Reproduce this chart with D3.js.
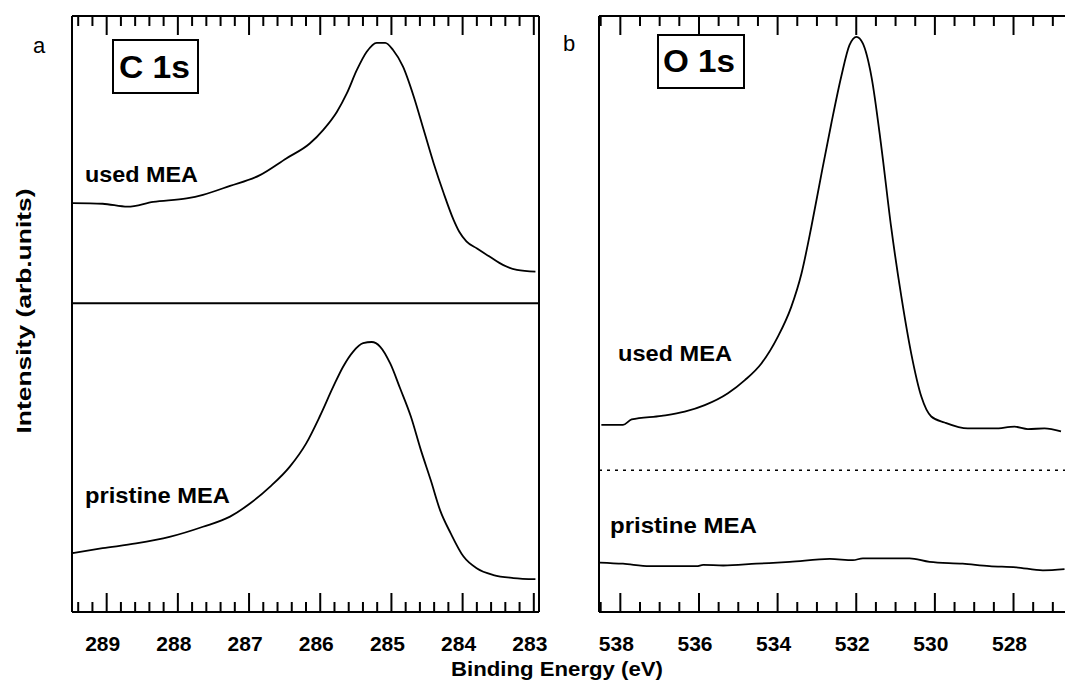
<!DOCTYPE html>
<html><head><meta charset="utf-8">
<script src="https://cdn.jsdelivr.net/npm/d3@7/dist/d3.min.js"></script>
<style>body{margin:0;background:#fff}svg{display:block}text{font-family:"Liberation Sans",Arial,sans-serif}</style>
</head><body>
<script>
// ---- Data ----
const cTicks = [289, 288, 287, 286, 285, 284, 283];
const oTicks = [538, 536, 534, 532, 530, 528];

const cUsedEnergy = [289.47,289.05,288.70,288.34,287.87,287.64,287.26,286.84,286.47,286.14,285.95,285.76,285.62,285.48,285.34,285.20,285.08,284.97,284.83,284.68,284.54,284.40,284.26,284.12,284.04,283.94,283.79,283.61,283.42,283.23,282.97];
const cUsedIntensity = [68.6,68.5,68.0,68.8,69.4,70.0,71.5,73.3,76.1,78.6,80.9,83.9,87.0,90.9,94.0,95.5,95.5,94.3,91.5,86.5,80.9,75.3,70.3,65.8,63.8,62.2,61.0,59.6,58.2,57.4,57.1];

const cPristineEnergy = [289.47,289.05,288.58,288.11,287.64,287.26,286.98,286.70,286.42,286.19,286.00,285.81,285.67,285.53,285.39,285.27,285.15,285.01,284.87,284.72,284.58,284.44,284.31,284.16,283.98,283.79,283.56,283.28,282.97];
const cPristineIntensity = [9.9,10.7,11.5,12.6,14.3,16.0,18.2,21.0,24.4,28.3,32.8,37.8,41.2,43.7,45.1,45.3,44.5,41.7,37.5,32.8,27.2,22.1,17.1,13.2,9.3,7.3,6.2,5.7,5.5];

const oUsedEnergy = [538.47,537.92,537.70,536.94,536.35,535.84,535.25,534.82,534.40,533.98,533.64,533.38,533.13,532.87,532.62,532.37,532.16,531.98,531.82,531.60,531.35,531.10,530.84,530.59,530.33,530.08,529.74,529.15,528.47,527.96,527.62,527.20,526.78];
const oUsedIntensity = [31.4,31.4,32.3,32.9,33.6,34.7,36.7,38.9,41.7,46.2,51.2,56.8,64.6,73.6,82.0,89.8,95.1,96.5,95.4,89.8,78.1,64.6,52.9,43.4,36.1,32.8,31.8,30.8,30.8,31.1,30.7,30.8,30.3];

const oPristineEnergy = [538.51,537.92,537.24,536.05,535.88,535.37,534.53,533.68,532.66,532.07,531.82,530.63,530.12,529.28,528.60,527.92,527.24,526.69];
const oPristineIntensity = [8.3,8.1,7.7,7.7,7.9,7.8,8.1,8.4,8.9,8.7,9.0,9.0,8.4,8.1,7.7,7.5,7.0,7.2];

const cSeparator = 51.8;   // solid divider, panel a
const oSeparator = 23.8;   // dotted divider, panel b

// ---- Layout ----
const W = 1065, H = 685;
const svg = d3.select("body").append("svg").attr("width", W).attr("height", H);
const yTop = 16, yBottom = 612;
const y = d3.scaleLinear().domain([0, 100]).range([yBottom, yTop]);

const panels = [
  {x: d3.scaleLinear().domain([289.48, 282.92]).range([72, 539]), ticks: cTicks, minor: 0.2,
   series: [[cUsedEnergy, cUsedIntensity], [cPristineEnergy, cPristineIntensity]],
   sep: cSeparator, dotted: false, letter: "a", lx: 33, ly: 53, rightBorder: true,
   box: {x: 113, y: 40, w: 85, h: 53, label: "C 1s", tx: 119, ty: 78, tl: 71},
   labels: [{t: "used MEA", x: 85, y: 182, l: 113}, {t: "pristine MEA", x: 85, y: 503, l: 145}]},
  {x: d3.scaleLinear().domain([538.53, 526.5]).range([599, 1072]), ticks: oTicks, minor: 0.5,
   series: [[oUsedEnergy, oUsedIntensity], [oPristineEnergy, oPristineIntensity]],
   sep: oSeparator, dotted: true, letter: "b", lx: 563, ly: 51, rightBorder: false,
   box: {x: 658, y: 35, w: 86, h: 53, label: "O 1s", tx: 663, ty: 72, tl: 72},
   labels: [{t: "used MEA", x: 618, y: 361, l: 114}, {t: "pristine MEA", x: 610, y: 533, l: 147}]}
];

panels.forEach(p => {
  const g = svg.append("g");
  const [x0, x1] = p.x.range();
  const d = p.x.domain();
  const lo = Math.min(d[0], d[1]), hi = Math.max(d[0], d[1]);
  const minorVals = d3.range(Math.ceil(lo / p.minor + 1e-6), Math.floor(hi / p.minor - 1e-6) + 1)
    .map(k => +(k * p.minor).toFixed(2))
    .filter(v => !p.ticks.some(t => Math.abs(t - v) < 1e-6));

  // minor ticks
  g.append("g").attr("transform", `translate(0,${yBottom})`)
    .call(d3.axisBottom(p.x).tickValues(minorVals).tickSize(-10).tickFormat(""));
  g.append("g").attr("transform", `translate(0,${yTop})`)
    .call(d3.axisTop(p.x).tickValues(minorVals).tickSize(-10).tickFormat(""));
  // major ticks
  const bAx = g.append("g").attr("transform", `translate(0,${yBottom})`)
    .call(d3.axisBottom(p.x).tickValues(p.ticks).tickSize(-19).tickPadding(24).tickFormat(d3.format("d")));
  g.append("g").attr("transform", `translate(0,${yTop})`)
    .call(d3.axisTop(p.x).tickValues(p.ticks).tickSize(-19).tickFormat(""));
  g.selectAll(".domain").remove();
  g.selectAll(".tick line").attr("stroke", "#000").attr("stroke-width", 2);
  bAx.selectAll(".tick text").attr("font-size", 21).attr("font-weight", "bold")
    .attr("fill", "#000").attr("dx", -4);

  // frame
  const fr = g.append("g").attr("stroke", "#000").attr("stroke-width", 2).attr("fill", "none");
  fr.append("line").attr("x1", x0).attr("x2", x1).attr("y1", yTop).attr("y2", yTop);
  fr.append("line").attr("x1", x0).attr("x2", x1).attr("y1", yBottom).attr("y2", yBottom);
  fr.append("line").attr("x1", x0).attr("x2", x0).attr("y1", yTop).attr("y2", yBottom);
  if (p.rightBorder) fr.append("line").attr("x1", x1).attr("x2", x1).attr("y1", yTop).attr("y2", yBottom);

  // separator
  g.append("line").attr("x1", x0).attr("x2", Math.min(x1, W))
    .attr("y1", y(p.sep)).attr("y2", y(p.sep))
    .attr("stroke", "#000").attr("stroke-width", p.dotted ? 1.5 : 2)
    .attr("stroke-dasharray", p.dotted ? "3,5" : null);

  // curves
  const line = d3.line().x(d => p.x(d[0])).y(d => y(d[1])).curve(d3.curveMonotoneX);
  p.series.forEach(([e, v]) => {
    g.append("path").datum(e.map((ev, i) => [ev, v[i]]))
      .attr("d", line).attr("fill", "none").attr("stroke", "#000").attr("stroke-width", 1.8);
  });

  // label box
  g.append("rect").attr("x", p.box.x).attr("y", p.box.y).attr("width", p.box.w).attr("height", p.box.h)
    .attr("fill", "#fff").attr("stroke", "#000").attr("stroke-width", 2);
  g.append("text").attr("x", p.box.tx).attr("y", p.box.ty).text(p.box.label)
    .attr("font-size", 32).attr("font-weight", "bold")
    .attr("textLength", p.box.tl).attr("lengthAdjust", "spacingAndGlyphs");

  p.labels.forEach(l => {
    g.append("text").attr("x", l.x).attr("y", l.y).text(l.t)
      .attr("font-size", 22).attr("font-weight", "bold")
      .attr("textLength", l.l).attr("lengthAdjust", "spacingAndGlyphs");
  });

  svg.append("text").attr("x", p.lx).attr("y", p.ly).text(p.letter).attr("font-size", 22);
});

// axis titles
svg.append("text").attr("x", 557).attr("y", 676).attr("text-anchor", "middle")
  .attr("font-size", 21).attr("font-weight", "bold")
  .attr("textLength", 212).attr("lengthAdjust", "spacingAndGlyphs")
  .text("Binding Energy (eV)");
svg.append("text").attr("transform", "translate(31,311) rotate(-90)").attr("text-anchor", "middle")
  .attr("font-size", 21).attr("font-weight", "bold")
  .attr("textLength", 245).attr("lengthAdjust", "spacingAndGlyphs")
  .text("Intensity (arb.units)");
</script>
</body></html>
